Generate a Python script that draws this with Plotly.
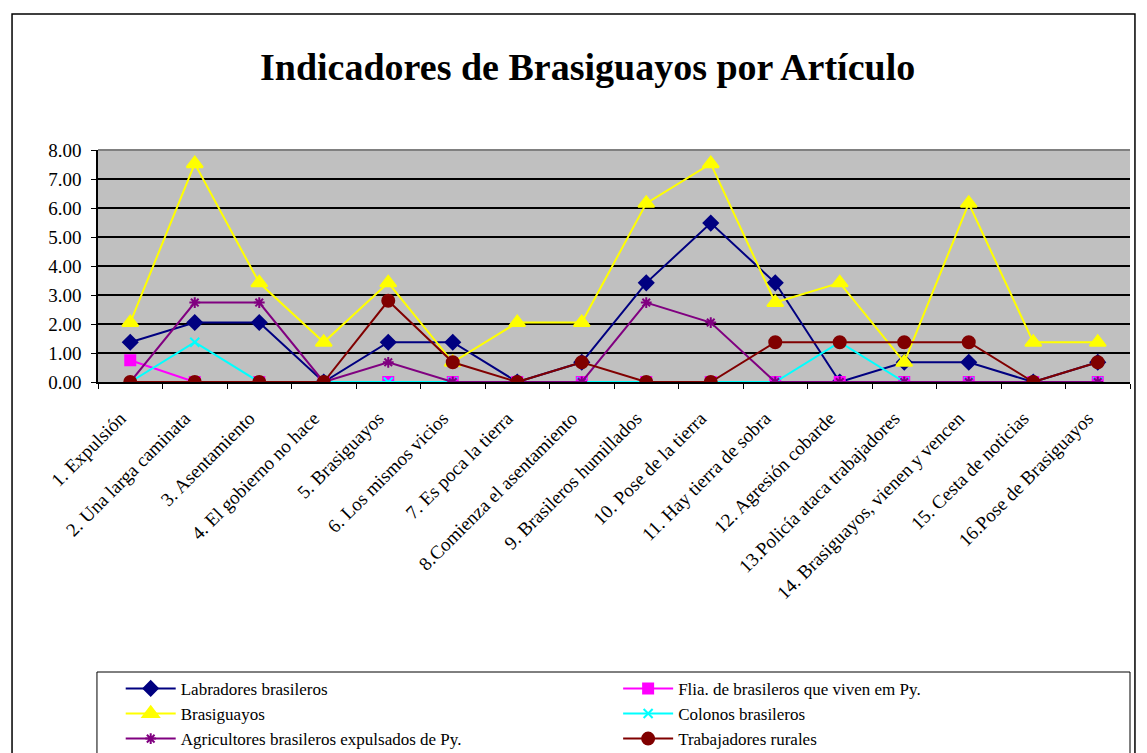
import plotly.graph_objects as go

categories = [
    "1. Expulsión", "2. Una larga caminata", "3. Asentamiento", "4. El gobierno no hace",
    "5. Brasiguayos", "6. Los mismos vicios", "7. Es poca la tierra",
    "8.Comienza el asentamiento", "9. Brasileros humillados", "10. Pose de la tierra",
    "11. Hay tierra de sobra", "12. Agresión cobarde", "13.Policía ataca trabajadores",
    "14. Brasiguayos, vienen y vencen", "15. Cesta de noticias", "16.Pose de Brasiguayos",
]

labradores = [1.37, 2.05, 2.05, 0, 1.37, 1.37, 0, 0.68, 3.42, 5.48, 3.42, 0, 0.68, 0.68, 0, 0.68]
flia = [0.75, 0, 0, 0, 0, 0, 0, 0, 0, 0, 0, 0, 0, 0, 0, 0]
brasiguayos = [2.05, 7.53, 3.42, 1.37, 3.42, 0.68, 2.05, 2.05, 6.16, 7.53, 2.74, 3.42, 0.68, 6.16, 1.37, 1.37]
colonos = [0, 1.37, 0, 0, 0, 0, 0, 0, 0, 0, 0, 1.37, 0, 0, 0, 0]
agricultores = [0, 2.74, 2.74, 0, 0.68, 0, 0, 0, 2.74, 2.05, 0, 0, 0, 0, 0, 0]
trabajadores = [0, 0, 0, 0, 2.80, 0.68, 0, 0.68, 0, 0, 1.37, 1.37, 1.37, 1.37, 0, 0.68]

series = [
    ("Labradores brasileros", labradores, "#000080", "diamond", 11),
    ("Flia. de brasileros que viven em Py.", flia, "#FF00FF", "square", 10),
    ("Brasiguayos", brasiguayos, "#FFFF00", "triangle-up", 14),
    ("Colonos brasileros", colonos, "#00FFFF", "x-thin-open", 9),
    ("Agricultores brasileros expulsados de Py.", agricultores, "#800080", "asterisk-open", 9),
    ("Trabajadores rurales", trabajadores, "#800000", "circle", 12),
]

fig = go.Figure()
for name, vals, color, symbol, size in series:
    fig.add_trace(go.Scatter(
        x=categories, y=vals, name=name, mode="lines+markers",
        line=dict(color=color, width=2),
        marker=dict(symbol=symbol, size=size, color=color, line=dict(color=color, width=2)),
    ))

font = "Liberation Serif, Times New Roman, serif"

# page body has an 8px margin, so the figure is laid out 8px up/left
fig.update_layout(
    width=1139, height=745,
    margin=dict(l=90, r=17, t=142, b=371, autoexpand=False),
    paper_bgcolor="white", plot_bgcolor="#C0C0C0",
    font=dict(family=font, size=17, color="black"),
    showlegend=True,
    legend=dict(
        orientation="h", x=0.022, xanchor="left", y=-1.245, yanchor="top",
        entrywidth=0.482, entrywidthmode="fraction", itemwidth=50,
        font=dict(family=font, size=17), bgcolor="rgba(0,0,0,0)",
    ),
    annotations=[dict(
        text="<b>Indicadores de Brasiguayos por Artículo</b>", xref="paper", yref="paper",
        x=0.474, y=1.358, xanchor="center", yanchor="middle", showarrow=False,
        font=dict(family=font, size=38, color="black"),
    )],
    shapes=[
        dict(type="rect", xref="paper", yref="paper", x0=-0.0833, x1=1.0048, y0=-1.7, y1=1.586,
             line=dict(color="black", width=1.5), layer="below"),
        dict(type="rect", xref="paper", yref="paper", x0=-0.001, x1=1.0, y0=-1.7, y1=-1.25,
             line=dict(color="black", width=1), layer="below"),
        dict(type="line", xref="paper", yref="paper", x0=0, x1=1, y0=1, y1=1,
             line=dict(color="#808080", width=2)),
    ],
)

# nbsp suffix nudges the rotated labels down-left of the tick, like the original
fig.update_xaxes(
    type="category", range=[-0.5, 15.5], tickangle=-45, tickson="boundaries",
    ticks="outside", ticklen=5, tickcolor="black", showgrid=False,
    showline=True, linecolor="black", linewidth=1.5, ticklabelstandoff=6,
    ticksuffix="\u00a0\u00a0\u00a0",
    tickfont=dict(family=font, size=19), automargin=False,
)
fig.update_yaxes(
    range=[0, 8], dtick=1, tickformat=".2f", ticks="outside", ticklen=5, tickcolor="black",
    showgrid=True, gridcolor="black", gridwidth=1.5, zeroline=False,
    showline=True, linecolor="black", linewidth=1.5, ticklabelstandoff=6,
    tickfont=dict(family=font, size=19), automargin=False,
)

fig.write_html("out.html")
